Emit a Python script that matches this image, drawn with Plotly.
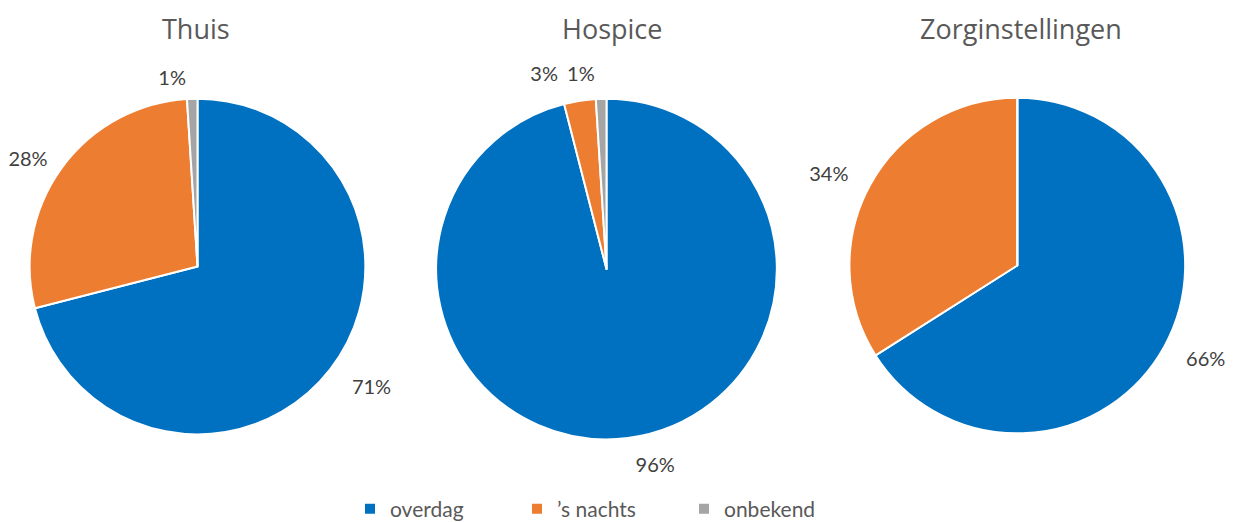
import plotly.graph_objects as go

categories = ["overdag", "\u2019s nachts", "onbekend"]
locations = ["Thuis", "Hospice", "Zorginstellingen"]
thuis = [71, 28, 1]
hospice = [96, 3, 1]
zorg = [66, 34, 0]
colors = ["#0070C0", "#ED7D31", "#A5A5A5"]

W, H = 1236, 522
# layout: pie centres / radius in px, title centre x (figure coords)
geom = [(189.5, 259.5, 168.5), (598.5, 262, 171), (1009.3, 258.5, 168.5)]
title_x = [188, 604, 1013]
# label placement (layout only): extra distance from pie edge and small rotation, per slice
label_gap = [[20, 10, 10], [14, 19, 14], [18, 18, 18]]
label_rot = [[0, 0, 0], [0, -4, 0], [0, 0, 0]]

LABEL_FONT = dict(family="Lato, Open Sans, sans-serif", size=20, color="#404040")


def dom(cx, cy, r):
    return dict(x=[(cx - r) / W, (cx + r) / W], y=[1 - (cy + r) / H, 1 - (cy - r) / H])


fig = go.Figure()
for k, (name, vals) in enumerate(zip(locations, [thuis, hospice, zorg])):
    cx, cy, r = geom[k]
    # visible pie
    fig.add_trace(go.Pie(
        labels=categories, values=vals, name=name,
        sort=False, direction="clockwise", rotation=0,
        marker=dict(colors=colors, line=dict(color="white", width=2)),
        textinfo="none",
        domain=dom(cx, cy, r),
        automargin=False, hoverinfo="label+percent",
    ))
    # invisible helper pies carrying the outside percentage labels (one per slice)
    for i in range(len(vals)):
        if vals[i] <= 0:
            continue
        fig.add_trace(go.Pie(
            labels=categories, values=vals, name=name,
            sort=False, direction="clockwise", rotation=label_rot[k][i],
            marker=dict(colors=["rgba(0,0,0,0)"] * len(vals), line=dict(width=0)),
            texttemplate=["%{percent:.0%}" if j == i else "" for j in range(len(vals))],
            textposition="outside",
            outsidetextfont=LABEL_FONT,
            domain=dom(cx, cy, r + label_gap[k][i]),
            automargin=False, showlegend=False, hoverinfo="skip",
        ))
    fig.add_annotation(text=name, x=title_x[k] / W, y=1, xref="paper", yref="paper",
                       showarrow=False, xanchor="center", yanchor="top",
                       font=dict(family="Open Sans, sans-serif", size=27, color="#595959"))

fig.update_layout(
    width=W, height=H,
    margin=dict(l=0, r=0, t=0, b=0),
    paper_bgcolor="white", plot_bgcolor="white",
    showlegend=True,
    legend=dict(orientation="h", x=342 / W, xanchor="left", y=1 - 503 / H, yanchor="middle",
                font=dict(family="Lato, Open Sans, sans-serif", size=21, color="#595959"),
                entrywidth=122, itemsizing="constant", traceorder="normal"),
)

fig.write_html("out.html")
